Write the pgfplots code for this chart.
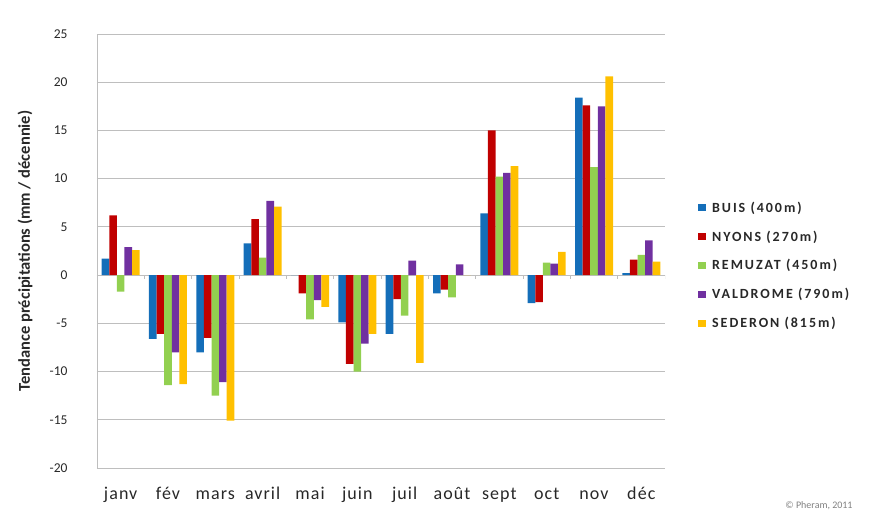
\documentclass[border=0pt]{standalone}
\usepackage{pgfplots}
\pgfplotsset{compat=1.18}
\usepackage{pgfplotstable}
\usepackage{fontspec}
\setmainfont{Carlito}
\newfontfamily\legfont[LetterSpace=14]{Carlito}
\newfontfamily\monthfont[LetterSpace=6]{Carlito}
\definecolor{cbuis}{RGB}{20,110,185}
\definecolor{cnyons}{RGB}{192,0,0}
\definecolor{cremu}{RGB}{146,208,80}
\definecolor{cvald}{RGB}{112,48,160}
\definecolor{csede}{RGB}{255,192,0}
\definecolor{gridc}{RGB}{190,190,190}
\definecolor{txt}{RGB}{40,40,40}

\pgfplotstableread{
x buis nyons remu vald sede
0 1.7 6.2 -1.7 2.9 2.6
1 -6.6 -6.1 -11.4 -8.0 -11.3
2 -8.0 -6.5 -12.5 -11.1 -15.1
3 3.3 5.8 1.8 7.7 7.1
4 0.0 -1.9 -4.6 -2.6 -3.3
5 -4.9 -9.2 -10.0 -7.1 -6.1
6 -6.1 -2.5 -4.2 1.5 -9.1
7 -1.9 -1.5 -2.3 1.1 0.0
8 6.4 15.0 10.2 10.6 11.3
9 -2.9 -2.8 1.3 1.2 2.4
10 18.4 17.6 11.2 17.5 20.6
11 0.2 1.6 2.1 3.6 1.4
}\datatable

\begin{document}
\begin{tikzpicture}
\begin{axis}[
  at={(0,0)}, anchor=south west,
  scale only axis,
  width=568pt, height=434pt,
  xmin=-0.5, xmax=11.5,
  ymin=-20, ymax=25,
  ytick={-20,-15,...,25},
  xtick={0,...,11},
  xticklabels={janv,fév,mars,avril,mai,juin,juil,août,sept,oct,nov,déc},
  major tick length=0pt,
  ymajorgrids,
  grid style={gridc, line width=0.9pt},
  axis x line*=bottom,
  x axis line style={draw=none},
  axis y line*=left,
  y axis line style={gridc, line width=0.9pt, -},
  /pgf/number format/assume math mode=true,
  yticklabel style={font=\fontsize{13.5}{13.5}\selectfont, text=txt, anchor=east, xshift=-26pt},
  xticklabel style={font=\monthfont\fontsize{18}{18}\selectfont, text=txt, anchor=base, yshift=-32pt},
  every axis y label/.style={at={(axis description cs:-0.1268,0.5)}, rotate=90, anchor=center},
  ylabel={\bfseries Tendance précipitations (mm / décennie)},
  ylabel style={font=\fontsize{16.5}{17}\selectfont, text=txt},
  ybar=0pt, bar width=7.6pt,
  legend style={at={(1.058,0.623)}, anchor=north west, draw=none, fill=none,
    font=\legfont\fontsize{14}{14}\selectfont\bfseries, text=txt, row sep=13pt,
    legend cell align=left, inner xsep=0pt,
    /tikz/every odd column/.append style={column sep=4pt}},
  legend image code/.code={\fill[#1] (0pt,-3.5pt) rectangle (8pt,3.5pt);},
]
\draw[gridc, line width=0.9pt] (axis cs:-0.5,0) -- (axis cs:11.5,0);
\draw[gridc, line width=0.9pt]
  (axis cs:-0.5,0) -- (axis cs:-0.5,-0.4) (axis cs:0.5,0) -- (axis cs:0.5,-0.4)
  (axis cs:1.5,0) -- (axis cs:1.5,-0.4) (axis cs:2.5,0) -- (axis cs:2.5,-0.4)
  (axis cs:3.5,0) -- (axis cs:3.5,-0.4) (axis cs:4.5,0) -- (axis cs:4.5,-0.4)
  (axis cs:5.5,0) -- (axis cs:5.5,-0.4) (axis cs:6.5,0) -- (axis cs:6.5,-0.4)
  (axis cs:7.5,0) -- (axis cs:7.5,-0.4) (axis cs:8.5,0) -- (axis cs:8.5,-0.4)
  (axis cs:9.5,0) -- (axis cs:9.5,-0.4) (axis cs:10.5,0) -- (axis cs:10.5,-0.4)
  (axis cs:11.5,0) -- (axis cs:11.5,-0.4);
\addplot[fill=cbuis, draw=none] table[x=x, y=buis] {\datatable};
\addlegendentry{BUIS (400m)}
\addplot[fill=cnyons, draw=none] table[x=x, y=nyons] {\datatable};
\addlegendentry{NYONS (270m)}
\addplot[fill=cremu, draw=none] table[x=x, y=remu] {\datatable};
\addlegendentry{REMUZAT (450m)}
\addplot[fill=cvald, draw=none] table[x=x, y=vald] {\datatable};
\addlegendentry{VALDROME (790m)}
\addplot[fill=csede, draw=none] table[x=x, y=sede] {\datatable};
\addlegendentry{SEDERON (815m)}
\end{axis}
\node[font=\fontsize{10}{10}\selectfont, text=gray] at (722pt,-38pt) {© Pheram, 2011};
\pgfresetboundingbox
\path[use as bounding box] (-97pt,-48pt) rectangle (774pt,468pt);
\end{tikzpicture}
\end{document}
